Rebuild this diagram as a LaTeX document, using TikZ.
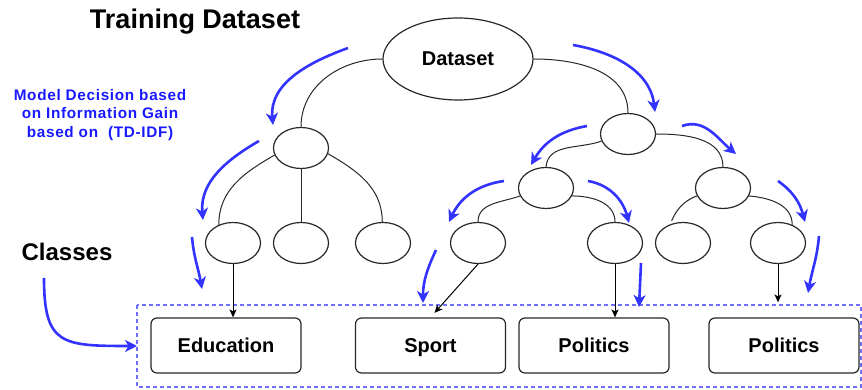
\documentclass[tikz,border=0pt]{standalone}
\usepackage{fontspec}
\setmainfont{Liberation Sans}
\newfontfamily\notefont[LetterSpace=4.5]{Liberation Sans}
\usetikzlibrary{arrows.meta,shapes.geometric}
\definecolor{flowblue}{RGB}{51,51,255}
\definecolor{noteblue}{RGB}{25,25,255}
\definecolor{frameblue}{RGB}{110,110,255}
\definecolor{inkgray}{RGB}{40,40,40}

\begin{document}
\begin{tikzpicture}[x=1pt,y=1pt,
  split/.style={ellipse, draw=inkgray, line width=1.2pt, minimum width=55pt,
    minimum height=41pt, inner sep=0pt},
  classbox/.style={draw=inkgray, line width=1.2pt, rounded corners=6pt,
    minimum width=150pt, minimum height=55pt, inner sep=0pt,
    text height=14.5pt, text depth=0.5pt,
    font=\fontsize{20}{24}\selectfont\bfseries},
  branch/.style={draw=inkgray, line width=1pt},
  assign/.style={draw=black, line width=1pt, -{Stealth[length=8pt,width=7pt,inset=2pt]}},
  flow/.style={draw=flowblue, line width=2.6pt, -{Stealth[length=12pt,width=12pt,inset=3.5pt]}},
]
\useasboundingbox (0,0) rectangle (862,390);

% titles and notes
\node[anchor=base, inner sep=0pt, font=\fontsize{27}{32}\selectfont\bfseries] (title) at (195,361) {Training Dataset};
\node[anchor=base, inner sep=0pt, font=\fontsize{24}{28}\selectfont\bfseries] (classes) at (67,129) {Classes};
\node[anchor=north, inner sep=0pt, align=center, text=noteblue,
  font=\notefont\fontsize{15.3}{18.5}\selectfont\bfseries] (note) at (100,301)
  {Model Decision based\\on Information Gain\\based on~~(TD-IDF)};

% decision tree
\node[ellipse, draw=inkgray, line width=1.2pt, minimum width=150pt, minimum height=82pt,
  inner sep=0pt, text height=14.5pt, text depth=0.5pt,
  font=\fontsize{20}{24}\selectfont\bfseries] (root) at (458,331) {Dataset};
\node[split] (l1a) at (301,242) {};
\node[split] (l1b) at (628,256) {};
\node[split] (l2a) at (546,202) {};
\node[split] (l2b) at (723,202) {};
\node[split] (l3a) at (233,147) {};
\node[split] (l3b) at (301,147) {};
\node[split] (l3c) at (383,147) {};
\node[split] (l3d) at (478,147) {};
\node[split] (l3e) at (615,147) {};
\node[split] (l3f) at (683,147) {};
\node[split] (l3g) at (778,147) {};

% class boxes and their frame
\draw[frameblue, line width=1.2pt, dash pattern=on 4pt off 3pt] (137,85) rectangle (861,3);
\node[classbox] (edu) at (226,44.5) {Education};
\node[classbox] (sport) at (430.5,44.5) {Sport};
\node[classbox] (pol1) at (594,44.5) {Politics};
\node[classbox] (pol2) at (784,44.5) {Politics};

% tree branches
\draw[branch] (root.west) to[out=180,in=90] (l1a.north);
\draw[branch] (root.east) to[out=0,in=90] (l1b.north);
\draw[branch] (l1a.195) to[out=210,in=90] (l3a.128);
\draw[branch] (l1a.south) -- (l3b.north);
\draw[branch] (l1a.-12) to[out=-30,in=90] (l3c.92);
\draw[branch] (l1b.195) to[out=200,in=85] (l2a.north);
\draw[branch] (l1b.0) to[out=0,in=90] (l2b.north);
\draw[branch] (l2a.197) to[out=200,in=90] (l3d.north);
\draw[branch] (l2a.-17) to[out=0,in=90] (l3e.north);
\draw[branch, shorten >=4pt] (l2b.197) to[out=200,in=65] (l3f.125);
\draw[branch] (l2b.-17) to[out=-5,in=90] (l3g.52);

% leaf assignments
\draw[assign] (l3a.south) -- (l3a.south |- edu.north);
\draw[assign, shorten >=6pt] (l3d.south) -- (sport.north);
\draw[assign] (l3e.south) -- (l3e.south |- pol1.north);
\draw[assign, shorten >=15pt] (l3g.south) -- (l3g.south |- pol2.north);

% decision flow arrows
\coordinate (f1s) at (348,342); \coordinate (f1e) at (273,265);
\coordinate (f2s) at (259,249); \coordinate (f2e) at (203,170);
\coordinate (f3s) at (192,153); \coordinate (f3e) at (202,101);
\coordinate (f4s) at (44,112);  \coordinate (f4e) at (137,44);
\coordinate (f5s) at (573,345); \coordinate (f5e) at (655,278);
\coordinate (f6s) at (587,264); \coordinate (f6e) at (531,225);
\coordinate (f7s) at (682,264); \coordinate (f7e) at (736,236);
\coordinate (f8s) at (504,209); \coordinate (f8e) at (449,168);
\coordinate (f9s) at (588,209); \coordinate (f9e) at (629,167);
\coordinate (f10s) at (778,209); \coordinate (f10e) at (805,168);
\coordinate (f11s) at (436,140); \coordinate (f11e) at (423,87);
\coordinate (f12s) at (641,127); \coordinate (f12e) at (639,83);
\coordinate (f13s) at (819,154); \coordinate (f13e) at (808,97);

\draw[flow] (f1s) to[out=200,in=95] (f1e);
\draw[flow] (f2s) to[out=210,in=95] (f2e);
\draw[flow] (f3s) to[out=-85,in=100] (f3e);
\draw[flow] (f4s) .. controls (44,45) and (62,44) .. (f4e);
\draw[flow] (f5s) to[out=-10,in=97] (f5e);
\draw[flow] (f6s) to[out=190,in=60] (f6e);
\draw[flow] (f7s) to[out=20,in=140] (f7e);
\draw[flow] (f8s) to[out=188,in=65] (f8e);
\draw[flow] (f9s) to[out=-10,in=105] (f9e);
\draw[flow] (f10s) to[out=-35,in=105] (f10e);
\draw[flow] (f11s) to[out=-115,in=90] (f11e);
\draw[flow] (f12s) -- (f12e);
\draw[flow] (f13s) to[out=-95,in=80] (f13e);
\end{tikzpicture}
\end{document}
